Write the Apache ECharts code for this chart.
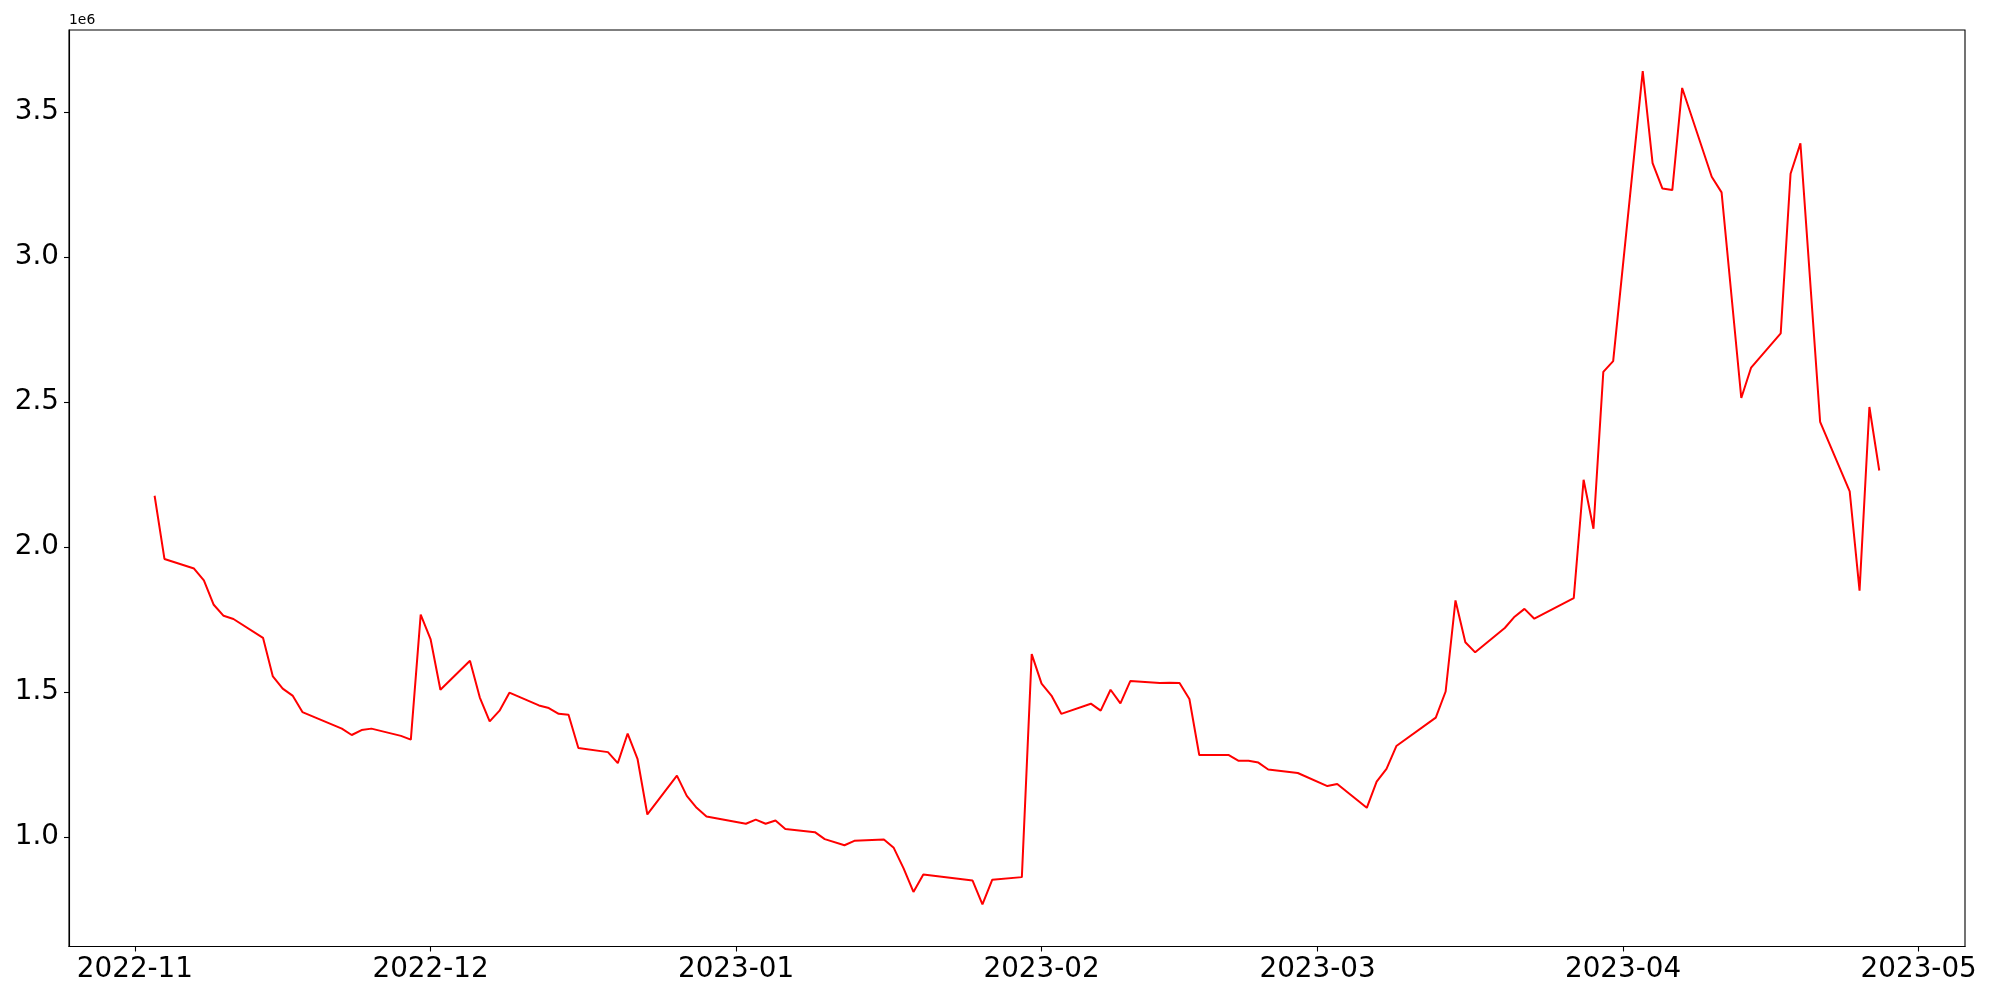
<!DOCTYPE html>
<html>
<head>
<meta charset="utf-8">
<script src="https://cdn.jsdelivr.net/npm/echarts@6/dist/echarts.min.js"></script>
<style>
html,body{margin:0;padding:0;background:#fff;}
#chart{width:2000px;height:1000px;}
</style>
</head>
<body>
<div id="chart"></div>
<script>
const dates = [
'2022-11-03','2022-11-04','2022-11-07','2022-11-08','2022-11-09','2022-11-10','2022-11-11',
'2022-11-14','2022-11-15','2022-11-16','2022-11-17','2022-11-18',
'2022-11-22','2022-11-23','2022-11-24','2022-11-25',
'2022-11-28','2022-11-29','2022-11-30','2022-12-01','2022-12-02',
'2022-12-05','2022-12-06','2022-12-07','2022-12-08','2022-12-09',
'2022-12-12','2022-12-13','2022-12-14','2022-12-15','2022-12-16',
'2022-12-19','2022-12-20','2022-12-21','2022-12-22','2022-12-23',
'2022-12-26','2022-12-27','2022-12-28','2022-12-29',
'2023-01-02','2023-01-03','2023-01-04','2023-01-05','2023-01-06',
'2023-01-09','2023-01-10','2023-01-12','2023-01-13',
'2023-01-16','2023-01-17','2023-01-18','2023-01-19','2023-01-20',
'2023-01-25','2023-01-26','2023-01-27',
'2023-01-30','2023-01-31','2023-02-01','2023-02-02','2023-02-03',
'2023-02-06','2023-02-07','2023-02-08','2023-02-09','2023-02-10',
'2023-02-13','2023-02-14','2023-02-15','2023-02-16','2023-02-17',
'2023-02-20','2023-02-21','2023-02-22','2023-02-23','2023-02-24',
'2023-02-27','2023-03-02','2023-03-03',
'2023-03-06','2023-03-07','2023-03-08','2023-03-09',
'2023-03-13','2023-03-14','2023-03-15','2023-03-16','2023-03-17',
'2023-03-20','2023-03-21','2023-03-22','2023-03-23',
'2023-03-27','2023-03-28','2023-03-29','2023-03-30','2023-03-31',
'2023-04-03','2023-04-04','2023-04-05','2023-04-06','2023-04-07',
'2023-04-10','2023-04-11','2023-04-13','2023-04-14',
'2023-04-17','2023-04-18','2023-04-19','2023-04-21',
'2023-04-24','2023-04-25','2023-04-26','2023-04-27'
];
const values = [
2177000,1959000,1926000,1885000,1801000,1763000,1752000,
1687000,1554000,1512000,1488000,1431000,
1374000,1352000,1369000,1374000,
1349000,1336000,1767000,1683000,1508000,
1608000,1481000,1399000,1436000,1498000,
1454000,1445000,1425000,1422000,1307000,
1293000,1255000,1357000,1270000,1078000,
1212000,1142000,1101000,1071000,
1046000,1060000,1046000,1057000,1028000,
1017000,993000,972000,987000,
992000,963000,892000,811000,871000,
850000,768000,853000,
862000,1631000,1529000,1488000,1425000,
1460000,1436000,1508000,1461000,1538000,
1531000,1532000,1531000,1476000,1283000,
1283000,1263000,1263000,1257000,1233000,
1221000,1176000,1183000,
1101000,1191000,1235000,1314000,
1412000,1502000,1816000,1672000,1637000,
1721000,1760000,1787000,1753000,
1824000,2232000,2063000,2604000,2641000,
3641000,3324000,3236000,3231000,3583000,
3277000,3223000,2514000,2619000,
2737000,3287000,3392000,2432000,
2192000,1850000,2483000,2264000
];
const xTickDates = ['2022-11-01','2022-12-01','2023-01-01','2023-02-01','2023-03-01','2023-04-01','2023-05-01'];
const yTickValues = [1000000,1500000,2000000,2500000,3000000,3500000];
const yOffsetText = '1e6';

function ts(s){const p=s.split('-').map(Number);return Date.UTC(p[0],p[1]-1,p[2]);}
const DAY = 86400000;
const nov1 = ts('2022-11-01');
const xMin = nov1 - 6.686*DAY;
const xMax = nov1 + 185.70*DAY;
const yMin = 622800;
const yMax = 3782800;

const seriesData = dates.map((d,i)=>[ts(d), values[i]]);
const font = 'DejaVu Sans';
const xTicks = xTickDates.map(ts);

const chart = echarts.init(document.getElementById('chart'), null, {renderer:'canvas'});
chart.setOption({
  animation:false,
  backgroundColor:'#ffffff',
  grid:{left:69, top:30, width:1896, height:916.5, show:true, borderColor:'#000', borderWidth:1.1, backgroundColor:'transparent', containLabel:false, outerBoundsMode:'none'},
  xAxis:{
    type:'value', min:xMin, max:xMax, scale:true,
    splitLine:{show:false},
    axisLine:{show:true, onZero:false, lineStyle:{color:'#000', width:1.1}},
    axisTick:{show:true, length:5, inside:false, lineStyle:{color:'#000', width:1.1}, customValues:xTicks},
    axisLabel:{show:true, color:'#000', fontFamily:font, fontSize:27.8, margin:9,
      customValues:xTicks,
      formatter:function(v){const d=new Date(v);return d.getUTCFullYear()+'-'+String(d.getUTCMonth()+1).padStart(2,'0');}}
  },
  yAxis:{
    type:'value', min:yMin, max:yMax, scale:true,
    splitLine:{show:false},
    axisLine:{show:true, onZero:false, lineStyle:{color:'#000', width:1.1}},
    axisTick:{show:true, length:5, inside:false, lineStyle:{color:'#000', width:1.1}, customValues:yTickValues},
    axisLabel:{show:true, color:'#000', fontFamily:font, fontSize:27.8, margin:10,
      customValues:yTickValues,
      formatter:function(v){return (v/1e6).toFixed(1);}}
  },
  graphic:[{type:'text', left:69, top:13, style:{text:yOffsetText, font:'13.9px "DejaVu Sans"', fill:'#000'}}],
  series:[{type:'line', data:seriesData, showSymbol:false, symbol:'none',
    lineStyle:{color:'#ff0000', width:2}, itemStyle:{color:'#ff0000'}, emphasis:{disabled:true}}]
});
</script>
</body>
</html>
